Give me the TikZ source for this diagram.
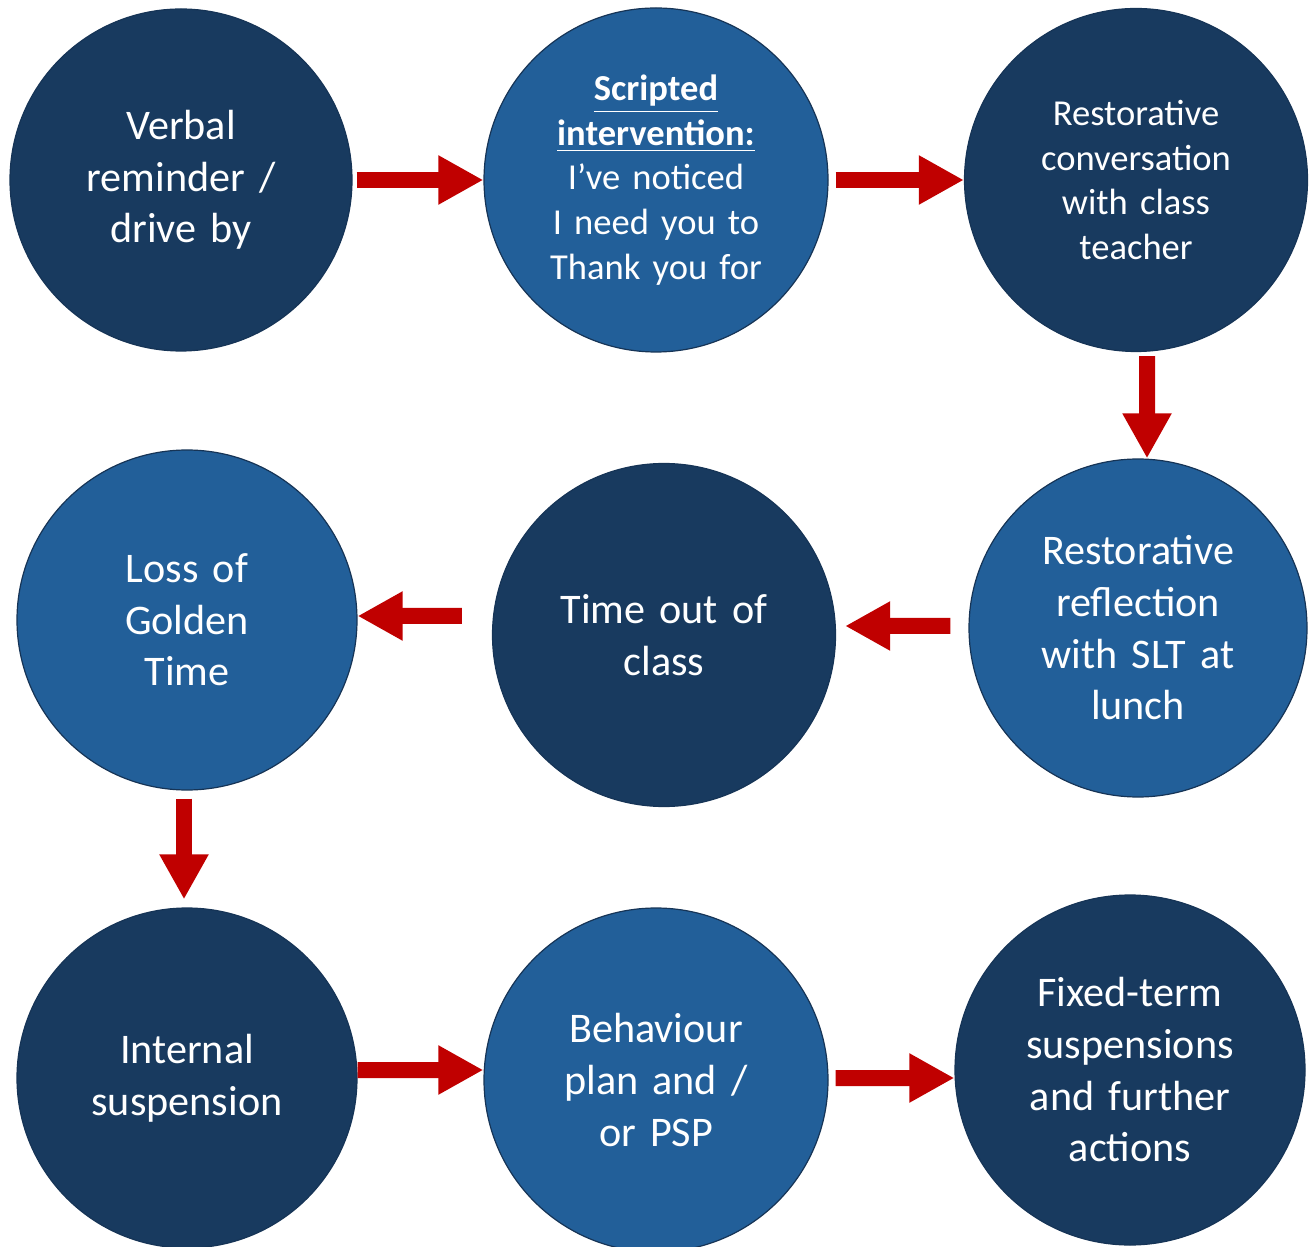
\documentclass[tikz,border=0pt]{standalone}
\usepackage{fontspec}
\setmainfont{Carlito}
\usetikzlibrary{arrows.meta}
\definecolor{navy}{RGB}{24,58,95}
\definecolor{midblue}{RGB}{34,95,153}
\definecolor{rim}{RGB}{22,52,86}
\definecolor{arrowred}{RGB}{192,0,0}

\begin{document}
\begin{tikzpicture}[
  x=0.1mm, y=-0.1mm,
  stage/.style={circle, draw=rim, line width=0.12mm, text=white, align=center, inner sep=0pt, text width=24mm, font=\fontsize{12}{14.7}\selectfont},
  dark/.style={stage, fill=navy},
  mid/.style={stage, fill=midblue},
  small/.style={font=\fontsize{10.4}{12.7}\selectfont},
  arr/.style={-{Triangle[length=4.5mm, width=4.6mm]}, line width=1.6mm, draw=arrowred}]
  \useasboundingbox (0,0) rectangle (1313,1247);
  \node[dark, minimum size=34.2mm] (verbal) at (181,180) {Verbal\\reminder /\\drive by};
  \node[mid, small, minimum size=34.4mm] (scripted) at (656,180) {\textbf{\underline{Scripted}}\\\textbf{\underline{intervention:}}\\I’ve noticed\\I need you to\\Thank you for};
  \node[dark, small, minimum size=34.3mm] (convo) at (1136,180) {Restorative\\conversation\\with class\\teacher};
  \node[mid, minimum size=33.8mm] (reflect) at (1138,628) {Restorative\\reflection\\with SLT at\\lunch};
  \node[dark, minimum size=34.3mm] (timeout) at (664,635) {Time out of\\class};
  \node[mid, minimum size=34mm] (golden) at (187,620) {Loss of\\Golden\\Time};
  \node[dark, minimum size=34mm] (internal) at (187,1078) {Internal\\suspension};
  \node[mid, minimum size=34.4mm] (plan) at (656,1080) {Behaviour\\plan and /\\or PSP};
  \node[dark, minimum size=35mm] (fixed) at (1130,1070) {Fixed-term\\suspensions\\and further\\actions};
  \draw[arr, shorten <=0.4mm] (verbal) -- (scripted);
  \draw[arr, shorten <=0.7mm] (scripted) -- (convo);
  \draw[arr, shorten <=0.4mm] ([xshift=1.1mm]convo.south) -- ([xshift=0.9mm]reflect.north);
  \draw[arr, shorten <=1.8mm, shorten >=0.9mm] ([yshift=0.2mm]reflect.west) -- ([yshift=0.9mm]timeout.east);
  \draw[arr, shorten <=3mm] ([yshift=1.9mm]timeout.west) -- ([yshift=0.4mm]golden.east);
  \draw[arr, shorten <=0.8mm, shorten >=0.8mm] ([xshift=-0.3mm]golden.south) -- ([xshift=-0.3mm]internal.north);
  \draw[arr] ([yshift=0.8mm]internal.east) -- ([yshift=1mm]plan.west);
  \draw[arr, shorten <=0.7mm] ([yshift=0.2mm]plan.east) -- ([yshift=-0.8mm]fixed.west);
\end{tikzpicture}
\end{document}
